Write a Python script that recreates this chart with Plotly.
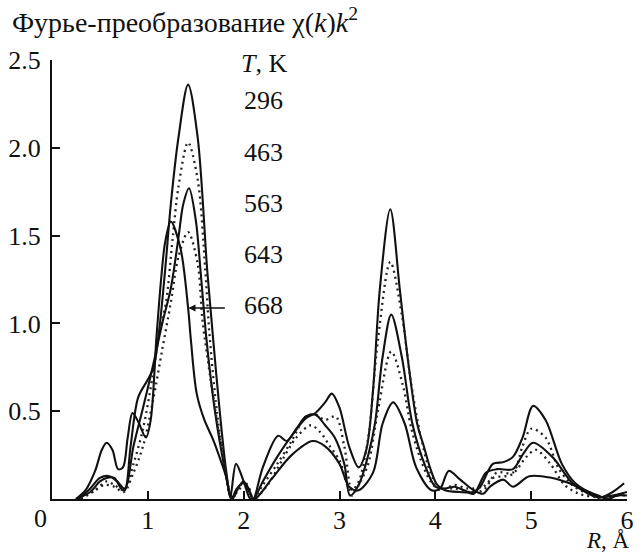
import plotly.graph_objects as go

# ---- data ----
temps = ["296", "463", "563", "643", "668"]
styles = ["solid", "dot", "solid", "dot", "solid"]

r_296 = [0.25, 0.4, 0.5, 0.57, 0.65, 0.72, 0.76, 0.82, 0.9, 1.0, 1.06, 1.11, 1.18, 1.24, 1.32, 1.42, 1.52, 1.62, 1.68, 1.75, 1.82, 1.87,
         1.93, 2.0, 2.05, 2.1, 2.2, 2.35, 2.5, 2.65, 2.75, 2.85, 2.92, 3.0, 3.1, 3.2, 3.28, 3.35, 3.42, 3.53, 3.63, 3.71, 3.81, 3.88, 3.95, 4.02,
         4.1, 4.25, 4.4, 4.47, 4.6, 4.71, 4.81, 4.91, 5.02, 5.15, 5.32, 5.46, 5.6, 5.73, 5.85, 5.97]
v_296 = [0.0, 0.04, 0.1, 0.12, 0.12, 0.06, 0.05, 0.3, 0.58, 0.68, 0.75, 0.92, 1.3, 1.68, 2.06, 2.36, 2.06, 1.3, 0.92, 0.5, 0.15, 0.0,
         0.06, 0.09, 0.05, 0.0, 0.1, 0.24, 0.36, 0.46, 0.49, 0.55, 0.6, 0.52, 0.3, 0.18, 0.28, 0.62, 1.19, 1.65, 1.19, 0.81, 0.43, 0.3, 0.17, 0.08,
         0.05, 0.04, 0.04, 0.07, 0.2, 0.21, 0.24, 0.35, 0.53, 0.45, 0.2, 0.09, 0.04, 0.01, 0.04, 0.09]

r_463 = [0.3, 0.45, 0.57, 0.65, 0.75, 0.85, 0.95, 1.05, 1.12, 1.19, 1.26, 1.32, 1.42, 1.52, 1.6, 1.64, 1.72, 1.8, 1.87, 1.95, 2.0, 2.05, 2.1,
         2.2, 2.35, 2.5, 2.65, 2.75, 2.85, 2.96, 3.05, 3.13, 3.2, 3.3, 3.4, 3.53, 3.65, 3.75, 3.85, 3.95, 4.05, 4.2, 4.35, 4.5, 4.64, 4.81,
         4.91, 5.0, 5.15, 5.29, 5.45, 5.6, 5.75, 5.9, 6.0]
v_463 = [0.0, 0.05, 0.1, 0.08, 0.05, 0.2, 0.4, 0.7, 0.95, 1.12, 1.49, 1.78, 2.03, 1.82, 1.3, 0.96, 0.5, 0.2, 0.02, 0.05, 0.1, 0.07, 0.0,
         0.08, 0.2, 0.33, 0.47, 0.48, 0.45, 0.47, 0.3, 0.05, 0.1, 0.35, 0.9, 1.35, 1.05, 0.65, 0.35, 0.15, 0.06, 0.06, 0.04, 0.05, 0.15, 0.15,
         0.3, 0.4, 0.35, 0.17, 0.07, 0.03, 0.0, 0.02, 0.03]

r_563 = [0.28, 0.4, 0.5, 0.6, 0.68, 0.76, 0.85, 0.95, 1.05, 1.15, 1.24, 1.32, 1.37, 1.43, 1.5, 1.55, 1.61, 1.7, 1.8, 1.88, 1.95, 2.0, 2.06, 2.1,
         2.2, 2.36, 2.45, 2.55, 2.65, 2.75, 2.85, 2.95, 3.05, 3.11, 3.2, 3.3, 3.37, 3.45, 3.54, 3.65, 3.76, 3.9, 4.0, 4.1, 4.2, 4.3, 4.4,
         4.53, 4.65, 4.81, 4.92, 5.02, 5.22, 5.43, 5.6, 5.7, 5.85, 6.0]
v_563 = [0.0, 0.06, 0.12, 0.13, 0.1, 0.06, 0.3, 0.52, 0.75, 1.0, 1.2, 1.49, 1.68, 1.77, 1.59, 1.3, 0.92, 0.5, 0.18, 0.0, 0.07, 0.1, 0.05, 0.0,
         0.18, 0.36, 0.33, 0.4, 0.47, 0.48, 0.42, 0.35, 0.2, 0.02, 0.08, 0.25, 0.43, 0.81, 1.05, 0.81, 0.43, 0.18, 0.07, 0.06, 0.07, 0.05, 0.03,
         0.15, 0.17, 0.17, 0.26, 0.32, 0.24, 0.09, 0.03, 0.01, 0.02, 0.04]

r_643 = [0.3, 0.45, 0.55, 0.65, 0.75, 0.85, 0.95, 1.05, 1.15, 1.24, 1.32, 1.42, 1.52, 1.57, 1.65, 1.75, 1.83, 1.88, 1.97, 2.05, 2.1,
         2.25, 2.4, 2.55, 2.7, 2.8, 2.9, 3.0, 3.08, 3.13, 3.2, 3.3, 3.4, 3.54, 3.66, 3.75, 3.85, 3.95, 4.05, 4.2, 4.33, 4.5, 4.6, 4.8,
         4.95, 5.05, 5.2, 5.35, 5.5, 5.7, 5.9, 6.0]
v_643 = [0.0, 0.05, 0.08, 0.07, 0.04, 0.15, 0.3, 0.55, 0.85, 1.12, 1.38, 1.52, 1.34, 1.02, 0.7, 0.35, 0.1, 0.0, 0.08, 0.05, 0.0,
         0.08, 0.22, 0.35, 0.42, 0.38, 0.3, 0.22, 0.08, 0.02, 0.08, 0.2, 0.5, 0.84, 0.65, 0.4, 0.22, 0.1, 0.05, 0.08, 0.06, 0.07, 0.12, 0.14,
         0.24, 0.28, 0.2, 0.08, 0.03, 0.01, 0.02, 0.02]

r_668 = [0.25, 0.35, 0.45, 0.52, 0.57, 0.63, 0.69, 0.74, 0.79, 0.84, 0.9, 0.98, 1.03, 1.09, 1.14, 1.18, 1.24, 1.34, 1.42, 1.45, 1.51, 1.59,
         1.68, 1.76, 1.82, 1.86, 1.92, 2.0, 2.07, 2.12, 2.3, 2.5, 2.72, 2.85, 3.0, 3.1, 3.2, 3.35, 3.45, 3.56, 3.68, 3.8, 3.96, 4.05, 4.14,
         4.26, 4.4, 4.5, 4.57, 4.71, 4.81, 4.98, 5.22, 5.4, 5.56, 5.7, 5.8, 5.9, 6.0]
v_668 = [0.0, 0.05, 0.16, 0.28, 0.32, 0.28, 0.17, 0.18, 0.35, 0.49, 0.44, 0.35, 0.45, 0.92, 1.26, 1.46, 1.58, 1.43, 1.09, 0.9, 0.6, 0.45,
         0.34, 0.22, 0.12, 0.01, 0.2, 0.1, 0.0, 0.0, 0.12, 0.25, 0.33, 0.3, 0.2, 0.07, 0.05, 0.15, 0.43, 0.55, 0.43, 0.18, 0.05, 0.06, 0.16,
         0.11, 0.05, 0.03, 0.07, 0.11, 0.07, 0.13, 0.12, 0.09, 0.05, 0.02, 0.0, 0.02, 0.02]

series_r = [r_296, r_463, r_563, r_643, r_668]
series_v = [v_296, v_463, v_563, v_643, v_668]

y_tickvals = [0.5, 1.0, 1.5, 2.0, 2.5]
y_ticktext = ["0.5", "1.0", "1.5", "2.0", "2.5"]
x_tickvals = [1, 2, 3, 4, 5, 6]
x_ticktext = ["1", "2", "3", "4", "5", "6"]

FONT = "Liberation Serif"
INK = "#111111"
FS = 26

fig = go.Figure()
for name, st, rr, vv in zip(temps, styles, series_r, series_v):
    if st == "solid":
        line = dict(color=INK, width=2.1, shape="spline", smoothing=0.9)
    else:
        line = dict(color="#222222", width=2.3, dash="2px,4px", shape="spline", smoothing=0.9)
    fig.add_trace(go.Scatter(x=rr, y=vv, mode="lines", name=name, line=line, showlegend=False))

W, H = 642, 553
L, R, T, B = 52, 8, 60, 54
pw, ph = W - L - R, H - T - B


def px(xp):
    return (xp - L) / pw


def py(yp):
    return (H - B - yp) / ph


ann = []
ann.append(dict(x=px(9), y=py(21), xref="paper", yref="paper", xanchor="left", yanchor="middle",
                text="Фурье-преобразование χ(<i>k</i>)<i>k</i><sup>2</sup>", showarrow=False,
                font=dict(family=FONT, size=28, color=INK)))
ann.append(dict(x=px(267), y=py(63), xref="paper", yref="paper", xanchor="center", yanchor="middle",
                text="<i>T</i>, K", showarrow=False, font=dict(family=FONT, size=FS, color=INK)))
for t, yy in zip(temps, [100, 152, 203, 254, 305]):
    ann.append(dict(x=px(266), y=py(yy), xref="paper", yref="paper", xanchor="center", yanchor="middle",
                    text=t, showarrow=False, font=dict(family=FONT, size=FS, color=INK)))
ann.append(dict(x=px(40), y=py(518), xref="paper", yref="paper", xanchor="center", yanchor="middle",
                text="0", showarrow=False, font=dict(family=FONT, size=FS, color=INK)))
ann.append(dict(x=px(639), y=py(540), xref="paper", yref="paper", xanchor="right", yanchor="middle",
                text="<i>R</i>, Å", showarrow=False, font=dict(family=FONT, size=23, color=INK)))
# arrow pointing at the 668 K curve
ann.append(dict(x=px(190), y=py(308), xref="paper", yref="paper", ax=38, ay=0, text="",
                showarrow=True, arrowhead=2, arrowsize=1.1, arrowwidth=1.3, arrowcolor=INK))

fig.update_layout(
    width=W, height=H,
    margin=dict(l=L, r=R, t=T, b=B, pad=0),
    paper_bgcolor="white", plot_bgcolor="white",
    showlegend=False,
    annotations=ann,
    xaxis=dict(range=[0, 6], showgrid=False, zeroline=False, showline=True, linecolor=INK, linewidth=2,
               ticks="inside", ticklen=8, tickwidth=1.5, tickcolor=INK,
               tickvals=x_tickvals, ticktext=x_ticktext, ticklabelstandoff=-3,
               tickfont=dict(family=FONT, size=FS, color=INK), fixedrange=True),
    yaxis=dict(range=[0, 2.5], showgrid=False, zeroline=False, showline=True, linecolor=INK, linewidth=2,
               ticks="inside", ticklen=8, tickwidth=1.5, tickcolor=INK,
               tickvals=y_tickvals, ticktext=y_ticktext, ticklabelstandoff=4,
               tickfont=dict(family=FONT, size=FS, color=INK), fixedrange=True),
)

fig.write_html("out.html")
